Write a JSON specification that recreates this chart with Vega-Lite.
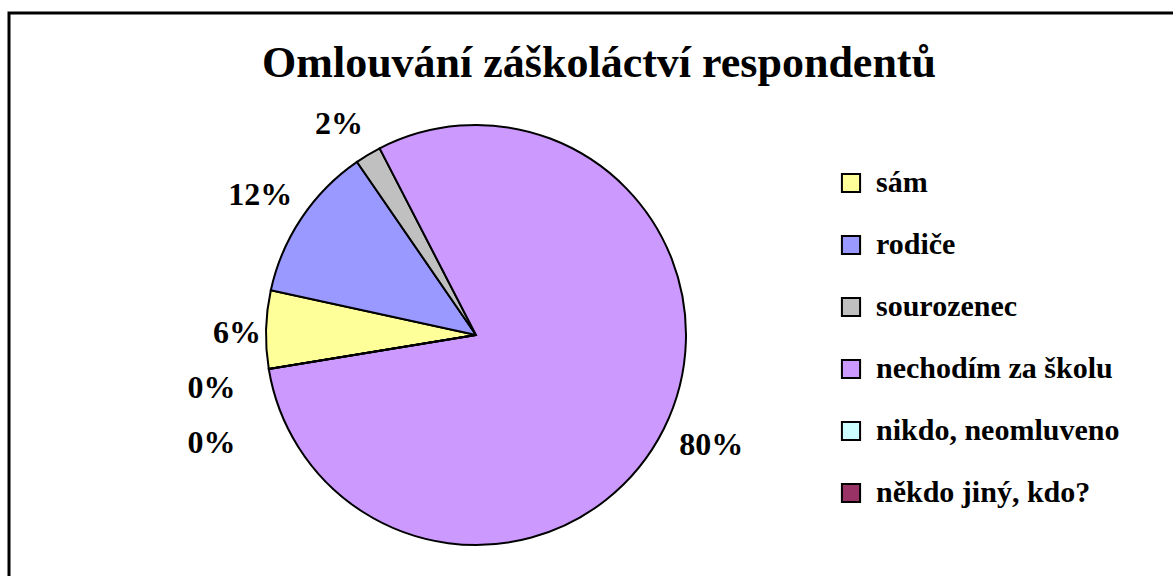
{
  "$schema": "https://vega.github.io/schema/vega-lite/v6.json",
  "width": 1170,
  "height": 600,
  "autosize": {"type": "none"},
  "padding": {"left": 9, "top": 13, "right": 0, "bottom": 0},
  "background": "white",
  "view": {"stroke": "black", "strokeWidth": 3, "fill": "white"},
  "config": {"view": {"stroke": "black", "strokeWidth": 3}, "font": "Liberation Serif"},
  "title": {
    "text": "Omlouvání záškoláctví respondentů",
    "font": "Liberation Serif",
    "fontSize": 44,
    "fontWeight": "bold",
    "color": "black",
    "anchor": "middle",
    "frame": "group",
    "offset": -73,
    "dx": 5
  },
  "data": {
    "values": [
      {"kategorie": "sám", "podil": 0.06, "poradi": 1},
      {"kategorie": "rodiče", "podil": 0.12, "poradi": 2},
      {"kategorie": "sourozenec", "podil": 0.02, "poradi": 3},
      {"kategorie": "nechodím za školu", "podil": 0.80, "poradi": 4},
      {"kategorie": "nikdo, neomluveno", "podil": 0.0, "poradi": 5},
      {"kategorie": "někdo jiný, kdo?", "podil": 0.0, "poradi": 6}
    ]
  },
  "encoding": {
    "theta": {"field": "podil", "type": "quantitative", "stack": true, "scale": {"range": [4.550, 10.833]}},
    "order": {"field": "poradi", "type": "quantitative"}
  },
  "layer": [
    {
      "mark": {"type": "arc", "x": 467, "y": 322, "outerRadius": 210, "stroke": "black", "strokeWidth": 2},
      "encoding": {
        "color": {
          "field": "kategorie",
          "type": "nominal",
          "scale": {
            "domain": ["sám", "rodiče", "sourozenec", "nechodím za školu", "nikdo, neomluveno", "někdo jiný, kdo?"],
            "range": ["#FFFF99", "#9999FF", "#C0C0C0", "#CC99FF", "#CCFFFF", "#993366"]
          },
          "legend": {
            "orient": "none",
            "legendX": 827,
            "legendY": 155,
            "title": null,
            "padding": 0,
            "symbolType": "square",
            "symbolSize": 330,
            "symbolStrokeColor": "black",
            "symbolStrokeWidth": 2,
            "symbolOpacity": 1,
            "labelFont": "Liberation Serif",
            "labelFontSize": 30,
            "labelFontWeight": "bold",
            "labelColor": "black",
            "labelOffset": 10,
            "rowPadding": 32,
            "labelLimit": 400
          }
        }
      }
    },
    {
      "mark": {"type": "text", "x": 467, "y": 322, "radius": 260, "dy": 5, "font": "Liberation Serif", "fontSize": 32, "fontWeight": "bold", "color": "black"},
      "encoding": {"text": {"condition": {"test": "datum.poradi == 2", "field": "podil", "type": "quantitative", "format": ".0%"}, "value": ""}}
    },
    {
      "mark": {"type": "text", "x": 467, "y": 322, "radius": 260, "dx": 3, "dy": -7, "font": "Liberation Serif", "fontSize": 32, "fontWeight": "bold", "color": "black"},
      "encoding": {"text": {"condition": {"test": "datum.poradi == 4", "field": "podil", "type": "quantitative", "format": ".0%"}, "value": ""}}
    },
    {
      "mark": {"type": "text", "x": 467, "y": 322, "radius": 239, "dy": 4, "font": "Liberation Serif", "fontSize": 32, "fontWeight": "bold", "color": "black"},
      "encoding": {"text": {"condition": {"test": "datum.poradi == 1", "field": "podil", "type": "quantitative", "format": ".0%"}, "value": ""}}
    },
    {
      "mark": {"type": "text", "x": 467, "y": 322, "radius": 255, "dx": -6, "dy": 8, "font": "Liberation Serif", "fontSize": 32, "fontWeight": "bold", "color": "black"},
      "encoding": {"text": {"condition": {"test": "datum.poradi == 3", "field": "podil", "type": "quantitative", "format": ".0%"}, "value": ""}}
    },
    {
      "mark": {"type": "text", "x": 467, "y": 322, "radius": 268, "dy": 10, "font": "Liberation Serif", "fontSize": 32, "fontWeight": "bold", "color": "black"},
      "encoding": {"text": {"condition": {"test": "datum.poradi == 5", "field": "podil", "type": "quantitative", "format": ".0%"}, "value": ""}}
    },
    {
      "mark": {"type": "text", "x": 467, "y": 322, "radius": 268, "dy": 65, "font": "Liberation Serif", "fontSize": 32, "fontWeight": "bold", "color": "black"},
      "encoding": {"text": {"condition": {"test": "datum.poradi == 6", "field": "podil", "type": "quantitative", "format": ".0%"}, "value": ""}}
    }
  ]
}
